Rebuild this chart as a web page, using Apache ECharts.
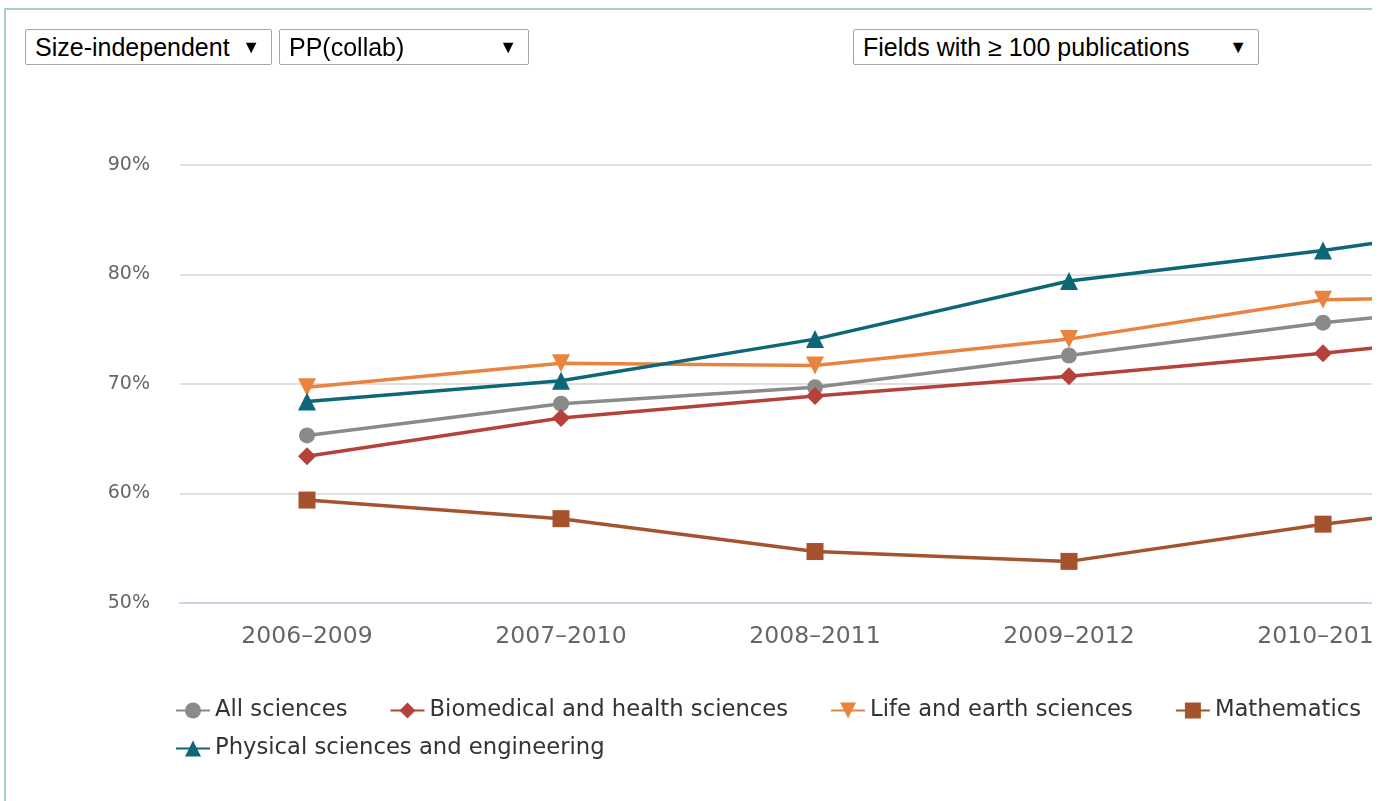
<!DOCTYPE html>
<html>
<head>
<meta charset="utf-8">
<script src="https://cdn.jsdelivr.net/npm/echarts@6/dist/echarts.min.js"></script>
<style>
body {
  margin: 0;
  overflow: hidden;
  background: #fff;
}
.frame {
  position: absolute;
  left: 4px;
  top: 8px;
  width: 1366px;
  height: 800px;
  border-left: 2px solid #aacbd0;
  border-top: 2px solid #aacbd0;
}
.clip {
  position: absolute;
  left: 0;
  top: 0;
  width: 1372px;
  height: 801px;
  overflow: hidden;
}
.chart-box {
  width: 1720px;
  height: 801px;
}
.drop {
  position: absolute;
  top: 29px;
  height: 34px;
  border: 1px solid #a6a6a6;
  border-radius: 2px;
  background: #fff;
  font-family: "Liberation Sans", Arial, sans-serif;
  font-size: 25px;
  line-height: 34px;
  color: #000;
  padding-left: 9px;
  box-sizing: content-box;
}
.drop .arr {
  position: absolute;
  right: 11px;
  top: 0;
  font-size: 18px;
}
</style>
</head>
<body>
<div class="frame"></div>
<div class="clip">
  <div id="mycharts" class="chart-box"></div>
</div>
<!-- 下拉框 -->
<div class="drop" style="left: 25px; width: 236px;">Size-independent<span class="arr">▼</span></div>
<div class="drop" style="left: 279px; width: 239px;">PP(collab)<span class="arr">▼</span></div>
<div class="drop" style="left: 853px; width: 395px;">Fields with ≥ 100 publications<span class="arr">▼</span></div>

<script>
// data
const periods = ["2006–2009", "2007–2010", "2008–2011", "2009–2012", "2010–2013", "2011–2014"];
const allSciences = [65.3, 68.2, 69.7, 72.6, 75.6, 77.9];
const biomedical = [63.4, 66.9, 68.9, 70.7, 72.8, 75.2];
const lifeEarth = [69.7, 71.9, 71.7, 74.1, 77.7, 78.1];
const mathematics = [59.4, 57.7, 54.7, 53.8, 57.2, 60.0];
const physical = [68.4, 70.3, 74.1, 79.4, 82.2, 85.5];
const yTicks = [50, 60, 70, 80, 90];

const fontFam = "DejaVu Sans";

function makeSeries(name, data, color, symbol, size, rotate) {
  return {
    name: name,
    type: "line",
    data: data,
    symbol: symbol,
    symbolSize: size,
    symbolRotate: rotate || 0,
    showAllSymbol: true,
    lineStyle: { color: color, width: 3.5 },
    itemStyle: { color: color },
  };
}

function legendBox(top, names) {
  return {
    left: 170,
    top: top,
    itemGap: 42,
    itemWidth: 34,
    itemHeight: 20,
    textStyle: {
      fontFamily: fontFam,
      fontSize: 22.7,
      color: "#333",
    },
    data: names,
  };
}

const myChart = echarts.init(document.getElementById("mycharts"));
myChart.setOption({
  animation: false,
  grid: {
    left: 180,
    top: 165,
    width: 1524,
    bottom: 198,
  },
  legend: [
    legendBox(694, [
      "All sciences",
      "Biomedical and health sciences",
      "Life and earth sciences",
      "Mathematics",
    ]),
    legendBox(732, ["Physical sciences and engineering"]),
  ],
  xAxis: {
    type: "category",
    data: periods,
    boundaryGap: true,
    axisLine: { lineStyle: { color: "#ccd6eb", width: 2 } },
    axisTick: { length: 15, lineStyle: { color: "#ccd6eb", width: 2 } },
    axisLabel: {
      fontFamily: fontFam,
      fontSize: 23.5,
      color: "#666",
      margin: 22,
    },
  },
  yAxis: {
    type: "value",
    min: yTicks[0],
    max: yTicks[yTicks.length - 1],
    interval: 10,
    axisLine: { show: false },
    axisTick: { show: false },
    axisLabel: {
      fontFamily: fontFam,
      fontSize: 19,
      color: "#666",
      margin: 30,
      formatter: "{value}%",
    },
    splitLine: { lineStyle: { color: "#e0e0e0", width: 2 } },
  },
  series: [
    makeSeries("All sciences", allSciences, "#8a8a8a", "circle", 16),
    makeSeries("Biomedical and health sciences", biomedical, "#b4423a", "diamond", 18),
    makeSeries("Life and earth sciences", lifeEarth, "#e8843f", "triangle", 18, 180),
    makeSeries("Mathematics", mathematics, "#a4532e", "rect", 17),
    makeSeries("Physical sciences and engineering", physical, "#0e6777", "triangle", 18),
  ],
});
</script>
</body>
</html>
